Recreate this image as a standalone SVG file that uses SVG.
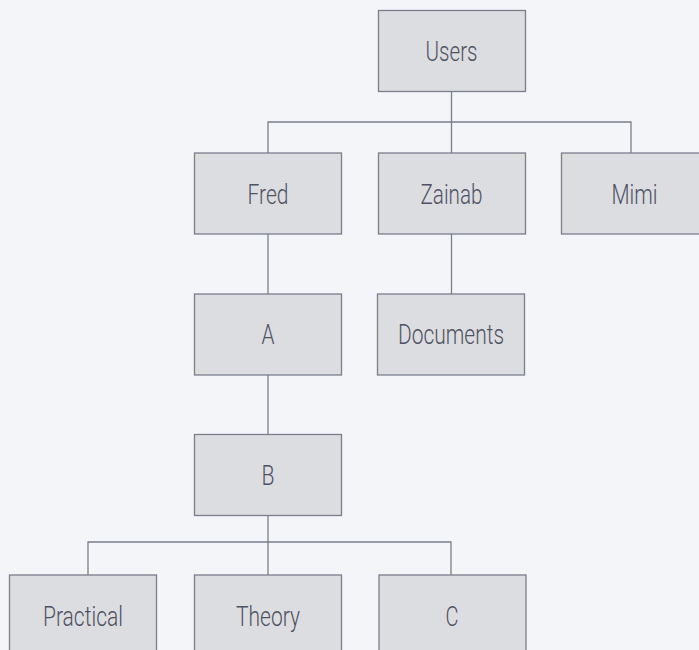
<svg xmlns="http://www.w3.org/2000/svg" width="699" height="650" viewBox="0 0 699 650">
<style>
.bg{fill:#f3f5f9}
.node rect{fill:#dcdde0;stroke:#7a7e8c;stroke-width:1.3}
.node text{font-family:Roboto,"Liberation Sans",sans-serif;font-size:27px;font-weight:300;fill:#4f5263;text-anchor:middle}
.conn path{fill:none;stroke:#7a7e8c;stroke-width:1.3}
</style>
<rect class="bg" x="0" y="0" width="699" height="650"/>
<g class="conn" id="connectors">
<path d="M451.5 91V122M268 153V122H631V153M451.5 122V153"/>
<path d="M268 234V294"/>
<path d="M451.5 234V294"/>
<path d="M268 375V434.5"/>
<path d="M268 516V542M88 575V542H451V575M268 542V575"/>
</g>
<g class="node" id="users"><rect x="378.5" y="10.5" width="147" height="81"/><text x="451.5" y="61" textLength="52" lengthAdjust="spacingAndGlyphs">Users</text></g>
<g class="node" id="fred"><rect x="194.5" y="153" width="147" height="81"/><text x="268" y="204" textLength="41" lengthAdjust="spacingAndGlyphs">Fred</text></g>
<g class="node" id="zainab"><rect x="378.5" y="153" width="147" height="81"/><text x="451.5" y="204" textLength="62" lengthAdjust="spacingAndGlyphs">Zainab</text></g>
<g class="node" id="mimi"><rect x="561.5" y="153" width="147" height="81"/><text x="634.5" y="204" textLength="46" lengthAdjust="spacingAndGlyphs">Mimi</text></g>
<g class="node" id="a"><rect x="194.5" y="294" width="147" height="81"/><text x="268" y="344" textLength="13" lengthAdjust="spacingAndGlyphs">A</text></g>
<g class="node" id="documents"><rect x="377.5" y="294" width="147" height="81"/><text x="451" y="344" textLength="106" lengthAdjust="spacingAndGlyphs">Documents</text></g>
<g class="node" id="b"><rect x="194.5" y="434.5" width="147" height="81"/><text x="268" y="485" textLength="13" lengthAdjust="spacingAndGlyphs">B</text></g>
<g class="node" id="practical"><rect x="9.5" y="575" width="147" height="81"/><text x="83" y="626" textLength="80" lengthAdjust="spacingAndGlyphs">Practical</text></g>
<g class="node" id="theory"><rect x="194.5" y="575" width="147" height="81"/><text x="268" y="626" textLength="64" lengthAdjust="spacingAndGlyphs">Theory</text></g>
<g class="node" id="c"><rect x="379" y="575" width="147" height="81"/><text x="452" y="626" textLength="13" lengthAdjust="spacingAndGlyphs">C</text></g>
</svg>
